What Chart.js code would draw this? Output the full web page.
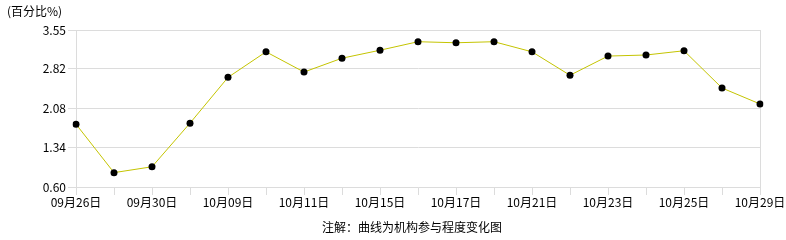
<!DOCTYPE html>
<html>
<head>
<meta charset="utf-8">
<script src="https://cdn.jsdelivr.net/npm/chart.js@4"></script>
<style>
  html, body { margin: 0; padding: 0; background: #fff; }
  #wrap { width: 786px; height: 240px; }
</style>
</head>
<body>
<div id="wrap"><canvas id="chart" width="786" height="240"></canvas></div>
<script>
const dates = ["09月26日","09月28日","09月30日","10月08日","10月09日","10月10日","10月11日","10月14日","10月15日","10月16日",
               "10月17日","10月18日","10月21日","10月22日","10月23日","10月24日","10月25日","10月28日","10月29日"];
const values = [1.78, 0.87, 0.98, 1.80, 2.66, 3.14, 2.76, 3.02, 3.17, 3.33,
                3.31, 3.33, 3.14, 2.70, 3.06, 3.08, 3.16, 2.46, 2.16];
const yTicks = [0.60, 1.34, 2.08, 2.82, 3.55];
const unitLabel = "(百分比%)";
const footNote = "注解：曲线为机构参与程度变化图";

const FONT = "'Noto Sans CJK SC', 'DejaVu Sans', sans-serif";
const lastIdx = dates.length - 1;

// title + footer text
const textPlugin = {
    id: "texts",
    afterDraw(chart) {
        const c = chart.ctx;
        c.save();
        c.fillStyle = "#000";
        c.font = "12px " + FONT;
        c.textBaseline = "middle";
        c.textAlign = "left";
        c.fillText(unitLabel, 7, 11);
        c.textAlign = "center";
        c.fillText(footNote, 412, 227);
        c.restore();
    }
};

new Chart(document.getElementById("chart"), {
    type: "line",
    data: {
        labels: dates,
        datasets: [{
            data: values,
            borderColor: "#c4c400",
            borderWidth: 1,
            pointRadius: 3.5,
            pointHoverRadius: 3.5,
            pointBackgroundColor: "#000",
            pointBorderColor: "#000",
            pointBorderWidth: 0,
            tension: 0,
            fill: false
        }]
    },
    options: {
        responsive: false,
        animation: false,
        layout: { padding: { top: 30, right: 26, left: 0, bottom: 0 } },
        plugins: { legend: { display: false }, tooltip: { enabled: false } },
        scales: {
            x: {
                offset: false,
                grid: {
                    color: ctx => (ctx.index === lastIdx ? "#dcdcdc" : "rgba(0,0,0,0)"),
                    tickColor: "#dcdcdc",
                    tickLength: 8,
                    lineWidth: 1
                },
                border: { color: "#dcdcdc" },
                ticks: {
                    autoSkip: false,
                    maxRotation: 0,
                    padding: 0,
                    color: "#000",
                    font: { family: FONT, size: 12 },
                    callback: (v, i) => (i % 2 === 0 ? dates[i] : "")
                },
                afterFit: s => { s.height = 53; }
            },
            y: {
                min: 0.6,
                max: 3.55,
                afterBuildTicks: s => { s.ticks = yTicks.map(v => ({ value: v })); },
                grid: { color: "#dcdcdc", tickLength: 8, lineWidth: 1 },
                border: { color: "#dcdcdc" },
                ticks: {
                    padding: 2,
                    color: "#000",
                    font: { family: FONT, size: 12 },
                    callback: v => v.toFixed(2)
                },
                afterFit: s => { s.width = 76; }
            }
        }
    },
    plugins: [textPlugin]
});
</script>
</body>
</html>
